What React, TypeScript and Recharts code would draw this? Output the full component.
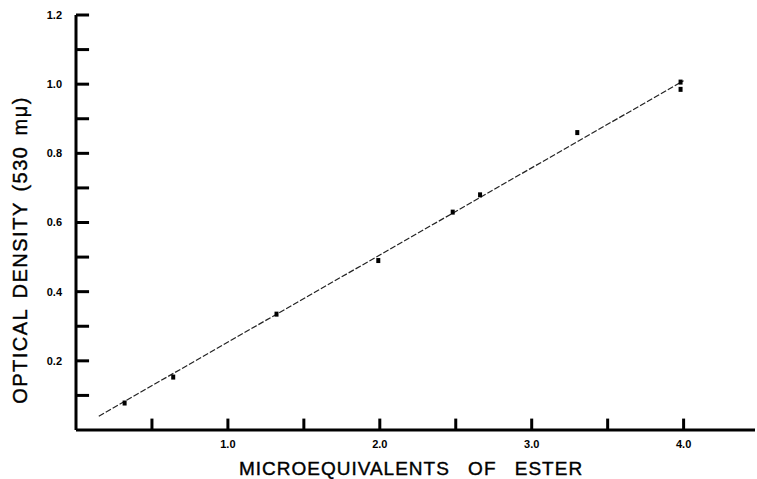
import { ComposedChart, Line, Scatter, XAxis, YAxis, Label, ReferenceLine } from "recharts";

// readings taken off the scanned figure
const esterX = [0.32, 0.64, 1.32, 1.99, 2.48, 2.66, 3.3, 3.98, 3.98];
const densityY = [0.078, 0.153, 0.335, 0.49, 0.63, 0.68, 0.86, 0.985, 1.006];
const fitX = [0.15, 4.0];
const fitY = [0.04, 1.01];
const xTicks = [0.5, 1.0, 1.5, 2.0, 2.5, 3.0, 3.5, 4.0];
const yTicks = [0.1, 0.2, 0.3, 0.4, 0.5, 0.6, 0.7, 0.8, 0.9, 1.0, 1.1, 1.2];

const points = esterX.map((x, i) => ({ x, y: densityY[i] }));
const fitLine = fitX.map((x, i) => ({ x, y: fitY[i] }));

// inward tick marks, lengths in data units (~11px up, ~13px right)
const X_TICK_LEN = 0.033;
const Y_TICK_LEN = 0.086;

const font = "'Liberation Sans', Arial, sans-serif";
const tickText = { fontSize: 11, fontWeight: "bold", fontFamily: font, fill: "#000" };

const xLabel = (v: number) => (Math.abs(v - Math.round(v)) < 1e-6 ? v.toFixed(1) : "");
const yLabel = (v: number) => (Math.round(v * 10) % 2 === 0 ? v.toFixed(1) : "");

function Dot({ cx, cy }: any) {
  return <rect x={cx - 2} y={cy - 2.5} width={4} height={5} fill="#000" />;
}

export default function App() {
  return (
    <div style={{ position: "absolute", left: 0, top: 0, background: "#fff" }}>
      <ComposedChart width={757} height={479} margin={{ top: 15, right: 2, bottom: 0, left: 0 }}>
        <XAxis
          type="number"
          dataKey="x"
          domain={[0, 4.47]}
          ticks={xTicks}
          height={49}
          tickSize={0}
          tickMargin={10}
          tickLine={false}
          tick={tickText}
          tickFormatter={xLabel}
          axisLine={{ stroke: "#000", strokeWidth: 3 }}
          interval={0}
        >
          <Label
            content={() => (
              <text
                x={411}
                y={475}
                textAnchor="middle"
                fontSize={19}
                fontFamily={font}
                fill="#000"
                stroke="#000"
                strokeWidth={0.4}
                letterSpacing={1}
                wordSpacing={12}
              >
                MICROEQUIVALENTS OF ESTER
              </text>
            )}
          />
        </XAxis>
        <YAxis
          type="number"
          dataKey="y"
          domain={[0, 1.2]}
          ticks={yTicks}
          width={76}
          tickSize={0}
          tickMargin={14}
          tickLine={false}
          tick={tickText}
          tickFormatter={yLabel}
          axisLine={{ stroke: "#000", strokeWidth: 3 }}
          interval={0}
        >
          <Label
            content={() => (
              <text
                x={27}
                y={250}
                transform="rotate(-90 27 250)"
                textAnchor="middle"
                fontSize={20}
                fontFamily={font}
                fill="#000"
                stroke="#000"
                strokeWidth={0.4}
                letterSpacing={1.5}
                wordSpacing={3}
              >
                OPTICAL DENSITY (530 mμ)
              </text>
            )}
          />
        </YAxis>
        {xTicks.map((t) => (
          <ReferenceLine
            key={"xt" + t}
            segment={[{ x: t, y: 0 }, { x: t, y: X_TICK_LEN }]}
            stroke="#000"
            strokeWidth={3}
            ifOverflow="visible"
          />
        ))}
        {yTicks.map((t) => (
          <ReferenceLine
            key={"yt" + t}
            segment={[{ x: 0, y: t }, { x: Y_TICK_LEN, y: t }]}
            stroke="#000"
            strokeWidth={3}
            ifOverflow="visible"
          />
        ))}
        <Line
          data={fitLine}
          dataKey="y"
          type="linear"
          stroke="#222"
          strokeWidth={1.2}
          strokeDasharray="6 2"
          dot={false}
          activeDot={false}
          isAnimationActive={false}
        />
        <Scatter data={points} dataKey="y" shape={<Dot />} isAnimationActive={false} />
      </ComposedChart>
    </div>
  );
}
